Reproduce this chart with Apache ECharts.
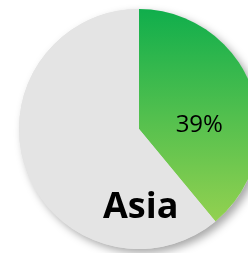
<!DOCTYPE html>
<html lang="en" style="height: 100%">
<head>
  <meta charset="utf-8">
</head>
<body style="height: 100%; margin: 0; background: #ffffff">
  <div id="container" style="width: 248px; height: 253px"></div>

  <script type="text/javascript" src="https://cdn.jsdelivr.net/npm/echarts@6/dist/echarts.min.js"></script>
  <script type="text/javascript">
    var categories = ['Asia', 'Rest'];
    var values = [39, 61];
    var title = 'Asia';

    var dom = document.getElementById('container');
    var myChart = echarts.init(dom, null, { renderer: 'canvas' });

    var green = new echarts.graphic.LinearGradient(0, 0, 0, 1, [
      { offset: 0, color: '#10ae4c' },
      { offset: 1, color: '#93d150' }
    ]);

    var option = {
      animation: false,
      graphic: [
        {
          type: 'text',
          left: 103,
          top: 190,
          style: {
            text: title,
            font: 'bold 36px "Open Sans"',
            fill: '#000000'
          },
          z: 100
        }
      ],
      series: [
        {
          // shadow disc under the pie
          type: 'pie',
          silent: true,
          center: [139, 129],
          radius: [0, 120],
          z: 1,
          label: { show: false },
          itemStyle: {
            color: '#e4e4e4',
            shadowBlur: 8,
            shadowOffsetX: 4,
            shadowOffsetY: 4,
            shadowColor: 'rgba(0,0,0,0.35)'
          },
          data: [{ value: 1 }]
        },
        {
          type: 'pie',
          center: [139, 129],
          radius: [0, 120],
          startAngle: 90,
          clockwise: true,
          z: 2,
          label: {
            show: true,
            position: 'inside',
            formatter: '{d}%',
            fontFamily: 'Open Sans',
            fontSize: 24,
            color: '#000000'
          },
          labelLine: { show: false },
          labelLayout: function () {
            return { dx: 1, dy: 17 };
          },
          data: categories.map(function (name, i) {
            return {
              name: name,
              value: values[i],
              itemStyle: { color: i === 0 ? green : '#e4e4e4' },
              label: { show: i === 0 }
            };
          })
        }
      ]
    };

    myChart.setOption(option);
    window.addEventListener('resize', myChart.resize);
  </script>
</body>
</html>
